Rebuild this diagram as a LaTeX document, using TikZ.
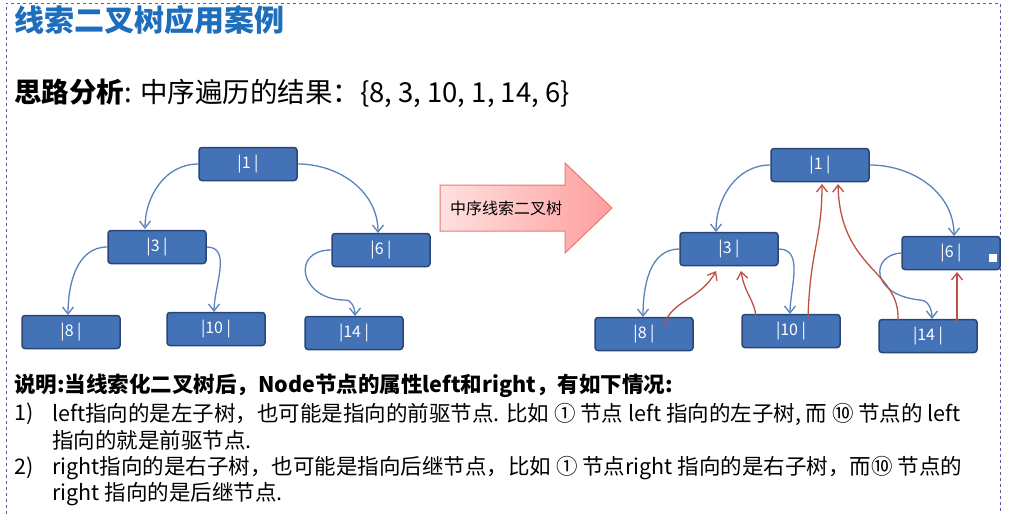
\documentclass[tikz,border=0pt]{standalone}
\usepackage{fontspec}
\setmainfont{Noto Sans CJK SC}
\usetikzlibrary{arrows.meta}
\definecolor{boxblue}{RGB}{68,114,182}
\definecolor{boxedge}{RGB}{40,70,120}
\definecolor{linkblue}{RGB}{90,130,190}
\definecolor{threadred}{RGB}{190,80,70}
\definecolor{titleblue}{RGB}{30,110,190}
\tikzset{
 tnode/.style={draw=boxedge,line width=1.5pt,fill=boxblue,rounded corners=3pt,minimum width=98pt,minimum height=33pt,text=white,font=\fontsize{16}{16}\selectfont},
 blink/.style={draw=linkblue,line width=1.3pt,-{Straight Barb[length=7pt,width=11pt]}},
 rlink/.style={draw=threadred,line width=1.3pt,-{Straight Barb[length=7pt,width=11pt]}},
 txt/.style={anchor=west,inner sep=0pt,font=\fontsize{21.5}{21.5}\selectfont}
}
\begin{document}
\begin{tikzpicture}[x=1pt,y=-1pt]
\useasboundingbox (0,0) rectangle (1024,514);
\fill[white] (0,0) rectangle (1024,514);
\draw[dashed,draw=gray!70!blue,line width=1pt] (6,514) -- (6,3) -- (1000,3) -- (1000,514);
\node[txt,text=titleblue,font=\fontsize{30}{30}\selectfont\bfseries] (title) at (14,20) {线索二叉树应用案例};
\node[txt,font=\fontsize{27.5}{27.5}\selectfont] (sub) at (14,93) {\textbf{思路分析}: 中序遍历的结果：\{8, 3, 10, 1, 14, 6\}};
% left tree
\node[tnode] (a1) at (248,164) {|1 |};
\node[tnode] (a3) at (157,247) {|3 |};
\node[tnode] (a6) at (381,250) {|6 |};
\node[tnode] (a8) at (71,332) {|8 |};
\node[tnode] (a10) at (216,329) {|10 |};
\node[tnode] (a14) at (354,333) {|14 |};
\draw[blink] (a1.west) to[out=180,in=90] (145,229);
\draw[blink] (a1.east) to[out=0,in=90] (378,233);
\draw[blink] (a3.west) to[out=180,in=90] (68,315);
\draw[blink] (a3.east) to[out=0,in=90] (214,312);
\draw[blink] (a6.west) .. controls (290,250) and (300,300) .. (345,300) to[out=0,in=90] (355,316);
% block arrow
\shade[left color=red!12,right color=red!38,draw=red!45!brown!70,line width=1pt]
 (440,185) -- (565,185) -- (565,163) -- (612,208) -- (565,253) -- (565,231) -- (440,231) -- cycle;
\node[font=\fontsize{16}{16}\selectfont] (arrtxt) at (506,208) {中序线索二叉树};
% right tree
\node[tnode] (b1) at (820,165) {|1 |};
\node[tnode] (b3) at (729,249) {|3 |};
\node[tnode] (b6) at (951,253) {|6 |};
\node[tnode] (b8) at (644,334) {|8 |};
\node[tnode] (b10) at (791,331) {|10 |};
\node[tnode] (b14) at (928,336) {|14 |};
\fill[white] (989,254) rectangle (997,262);
\draw[blink] (b1.west) to[out=180,in=90] (716,232);
\draw[blink] (b1.east) to[out=0,in=90] (954,236);
\draw[blink] (b3.west) to[out=180,in=90] (643,317);
\draw[blink] (b3.east) to[out=0,in=90] (790,314);
\draw[blink] (b6.west) .. controls (870,255) and (870,295) .. (920,300) to[out=0,in=90] (932,319);
\coordinate (c8) at (664,325);
\coordinate (c10a) at (756,318);
\coordinate (c10b) at (808,318);
\coordinate (c14a) at (898,320);
\coordinate (c14b) at (957,322);
\draw[rlink] (c8) .. controls (672,300) and (700,300) .. (716,271);
\draw[rlink] (c10a) .. controls (755,300) and (745,295) .. (741,271);
\draw[rlink] (c10b) .. controls (810,250) and (822,240) .. (822,184);
\draw[rlink] (c14a) .. controls (900,270) and (840,270) .. (838,184);
\draw[rlink] (c14b) -- (957,272);
% text
\node[txt] (l0) at (14,386) {\textbf{说明:当线索化二叉树后，Node节点的属性left和right，有如下情况:}};
\node[txt] (l1n) at (14,414) {1)};
\node[txt] (l1) at (52,414) {left指向的是左子树，也可能是指向的前驱节点. 比如 ① 节点 left 指向的左子树, 而 ⑩ 节点的 left};
\node[txt] (l1b) at (52,440) {指向的就是前驱节点.};
\node[txt] (l2n) at (14,468) {2)};
\node[txt] (l2) at (52,468) {right指向的是右子树，也可能是指向后继节点，比如 ① 节点right 指向的是右子树，而⑩ 节点的};
\node[txt] (l2b) at (52,494) {right 指向的是后继节点.};
\end{tikzpicture}
\end{document}
